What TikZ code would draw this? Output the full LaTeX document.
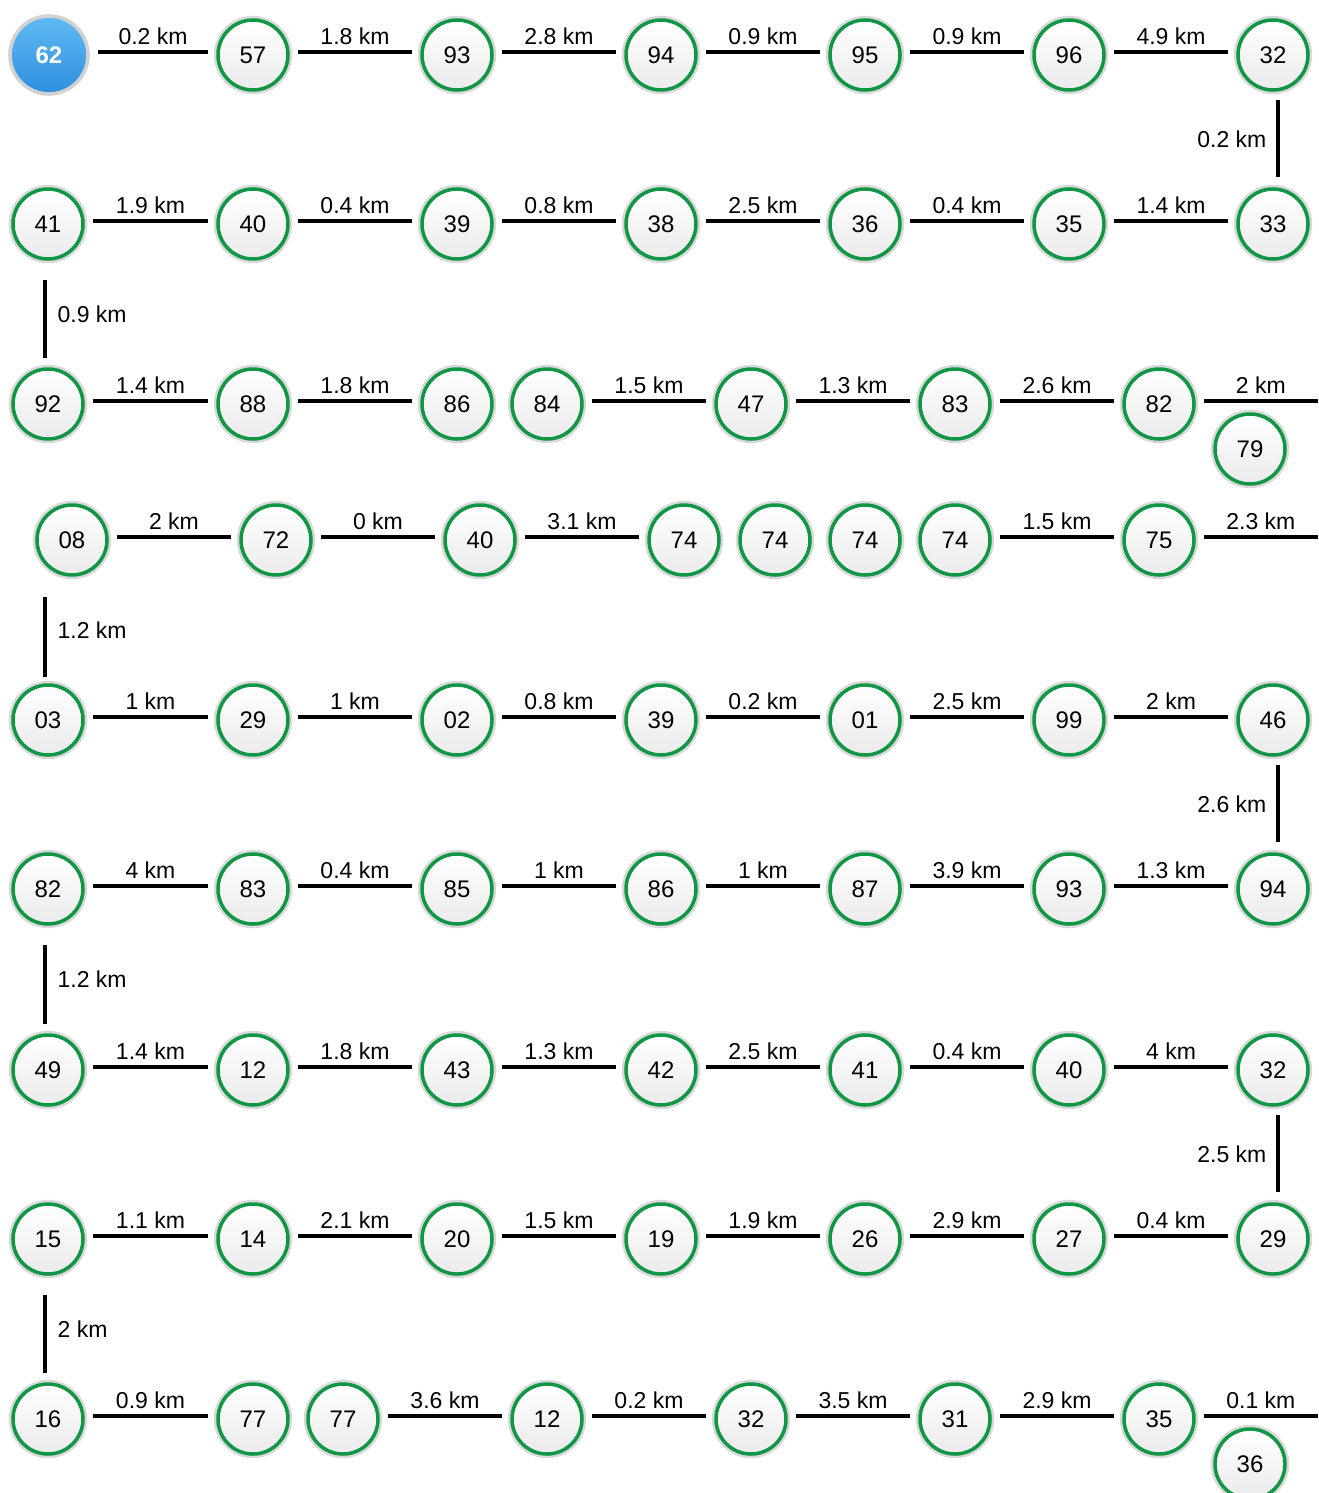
\documentclass[tikz,border=0pt]{standalone}
\usepackage{fontspec}
\setmainfont{Liberation Sans}
\definecolor{stgreen}{RGB}{16,150,68}
\definecolor{stblue}{RGB}{46,143,224}
\definecolor{stbluetop}{RGB}{96,186,242}
\tikzset{
  stop/.style={circle,minimum size=35pt,inner sep=0pt,draw=stgreen,line width=1.75pt,
    top color=white,bottom color=gray!16,font=\fontsize{12}{12}\selectfont,
    preaction={draw=gray!30,line width=4.2pt}},
  start/.style={circle,minimum size=39pt,inner sep=0pt,draw=gray!35,line width=1.8pt,
    top color=stbluetop,bottom color=stblue,text=white,font=\fontsize{12}{12}\selectfont\bfseries},
  leg/.style={line width=1.65pt,shorten <=4pt,shorten >=4pt},
  dist/.style={above,inner sep=3pt,font=\fontsize{11.5}{11.5}\selectfont},
}
\begin{document}
\begin{tikzpicture}[x=0.5pt,y=-0.5pt]
\useasboundingbox (0,0) rectangle (1318,1493);
\fill[white] (0,0) rectangle (1318,1493);

% row 1
\node[start] (a1) at (49,55) {62};
\node[stop] (a2) at (253,55) {57};
\node[stop] (a3) at (457,55) {93};
\node[stop] (a4) at (661,55) {94};
\node[stop] (a5) at (865,55) {95};
\node[stop] (a6) at (1069,55) {96};
\node[stop] (a7) at (1273,55) {32};
% row 2
\node[stop] (b1) at (48,224) {41};
\node[stop] (b2) at (253,224) {40};
\node[stop] (b3) at (457,224) {39};
\node[stop] (b4) at (661,224) {38};
\node[stop] (b5) at (865,224) {36};
\node[stop] (b6) at (1069,224) {35};
\node[stop] (b7) at (1273,224) {33};
% row 3
\node[stop] (c1) at (48,404) {92};
\node[stop] (c2) at (253,404) {88};
\node[stop] (c3) at (457,404) {86};
\node[stop] (c4) at (547,404) {84};
\node[stop] (c5) at (751,404) {47};
\node[stop] (c6) at (955,404) {83};
\node[stop] (c7) at (1159,404) {82};
\node[stop] (c8) at (1250,449) {79};
\coordinate (cend) at (1326,404);
% row 4
\node[stop] (d1) at (72,540) {08};
\node[stop] (d2) at (276,540) {72};
\node[stop] (d3) at (480,540) {40};
\node[stop] (d4) at (684,540) {74};
\node[stop] (d5) at (775,540) {74};
\node[stop] (d6) at (865,540) {74};
\node[stop] (d7) at (955,540) {74};
\node[stop] (d8) at (1159,540) {75};
\coordinate (dend) at (1326,540);
% row 5
\node[stop] (e1) at (48,720) {03};
\node[stop] (e2) at (253,720) {29};
\node[stop] (e3) at (457,720) {02};
\node[stop] (e4) at (661,720) {39};
\node[stop] (e5) at (865,720) {01};
\node[stop] (e6) at (1069,720) {99};
\node[stop] (e7) at (1273,720) {46};
% row 6
\node[stop] (f1) at (48,889) {82};
\node[stop] (f2) at (253,889) {83};
\node[stop] (f3) at (457,889) {85};
\node[stop] (f4) at (661,889) {86};
\node[stop] (f5) at (865,889) {87};
\node[stop] (f6) at (1069,889) {93};
\node[stop] (f7) at (1273,889) {94};
% row 7
\node[stop] (g1) at (48,1070) {49};
\node[stop] (g2) at (253,1070) {12};
\node[stop] (g3) at (457,1070) {43};
\node[stop] (g4) at (661,1070) {42};
\node[stop] (g5) at (865,1070) {41};
\node[stop] (g6) at (1069,1070) {40};
\node[stop] (g7) at (1273,1070) {32};
% row 8
\node[stop] (h1) at (48,1239) {15};
\node[stop] (h2) at (253,1239) {14};
\node[stop] (h3) at (457,1239) {20};
\node[stop] (h4) at (661,1239) {19};
\node[stop] (h5) at (865,1239) {26};
\node[stop] (h6) at (1069,1239) {27};
\node[stop] (h7) at (1273,1239) {29};
% row 9
\node[stop] (i1) at (48,1419) {16};
\node[stop] (i2) at (253,1419) {77};
\node[stop] (i3) at (343,1419) {77};
\node[stop] (i4) at (547,1419) {12};
\node[stop] (i5) at (751,1419) {32};
\node[stop] (i6) at (955,1419) {31};
\node[stop] (i7) at (1159,1419) {35};
\node[stop] (i8) at (1250,1464) {36};
\coordinate (iend) at (1326,1419);

% horizontal legs
\begin{scope}[transform canvas={yshift=1.5pt}]
\draw[leg] (a1.east) -- node[dist]{0.2 km} (a2.west);
\draw[leg] (a2.east) -- node[dist]{1.8 km} (a3.west);
\draw[leg] (a3.east) -- node[dist]{2.8 km} (a4.west);
\draw[leg] (a4.east) -- node[dist]{0.9 km} (a5.west);
\draw[leg] (a5.east) -- node[dist]{0.9 km} (a6.west);
\draw[leg] (a6.east) -- node[dist]{4.9 km} (a7.west);

\draw[leg] (b1.east) -- node[dist]{1.9 km} (b2.west);
\draw[leg] (b2.east) -- node[dist]{0.4 km} (b3.west);
\draw[leg] (b3.east) -- node[dist]{0.8 km} (b4.west);
\draw[leg] (b4.east) -- node[dist]{2.5 km} (b5.west);
\draw[leg] (b5.east) -- node[dist]{0.4 km} (b6.west);
\draw[leg] (b6.east) -- node[dist]{1.4 km} (b7.west);

\draw[leg] (c1.east) -- node[dist]{1.4 km} (c2.west);
\draw[leg] (c2.east) -- node[dist]{1.8 km} (c3.west);
\draw[leg] (c4.east) -- node[dist]{1.5 km} (c5.west);
\draw[leg] (c5.east) -- node[dist]{1.3 km} (c6.west);
\draw[leg] (c6.east) -- node[dist]{2.6 km} (c7.west);
\draw[leg] (c7.east) -- node[dist]{2 km} (cend);

\draw[leg] (d1.east) -- node[dist]{2 km} (d2.west);
\draw[leg] (d2.east) -- node[dist]{0 km} (d3.west);
\draw[leg] (d3.east) -- node[dist]{3.1 km} (d4.west);
\draw[leg] (d7.east) -- node[dist]{1.5 km} (d8.west);
\draw[leg] (d8.east) -- node[dist]{2.3 km} (dend);

\draw[leg] (e1.east) -- node[dist]{1 km} (e2.west);
\draw[leg] (e2.east) -- node[dist]{1 km} (e3.west);
\draw[leg] (e3.east) -- node[dist]{0.8 km} (e4.west);
\draw[leg] (e4.east) -- node[dist]{0.2 km} (e5.west);
\draw[leg] (e5.east) -- node[dist]{2.5 km} (e6.west);
\draw[leg] (e6.east) -- node[dist]{2 km} (e7.west);

\draw[leg] (f1.east) -- node[dist]{4 km} (f2.west);
\draw[leg] (f2.east) -- node[dist]{0.4 km} (f3.west);
\draw[leg] (f3.east) -- node[dist]{1 km} (f4.west);
\draw[leg] (f4.east) -- node[dist]{1 km} (f5.west);
\draw[leg] (f5.east) -- node[dist]{3.9 km} (f6.west);
\draw[leg] (f6.east) -- node[dist]{1.3 km} (f7.west);

\draw[leg] (g1.east) -- node[dist]{1.4 km} (g2.west);
\draw[leg] (g2.east) -- node[dist]{1.8 km} (g3.west);
\draw[leg] (g3.east) -- node[dist]{1.3 km} (g4.west);
\draw[leg] (g4.east) -- node[dist]{2.5 km} (g5.west);
\draw[leg] (g5.east) -- node[dist]{0.4 km} (g6.west);
\draw[leg] (g6.east) -- node[dist]{4 km} (g7.west);

\draw[leg] (h1.east) -- node[dist]{1.1 km} (h2.west);
\draw[leg] (h2.east) -- node[dist]{2.1 km} (h3.west);
\draw[leg] (h3.east) -- node[dist]{1.5 km} (h4.west);
\draw[leg] (h4.east) -- node[dist]{1.9 km} (h5.west);
\draw[leg] (h5.east) -- node[dist]{2.9 km} (h6.west);
\draw[leg] (h6.east) -- node[dist]{0.4 km} (h7.west);

\draw[leg] (i1.east) -- node[dist]{0.9 km} (i2.west);
\draw[leg] (i3.east) -- node[dist]{3.6 km} (i4.west);
\draw[leg] (i4.east) -- node[dist]{0.2 km} (i5.west);
\draw[leg] (i5.east) -- node[dist]{3.5 km} (i6.west);
\draw[leg] (i6.east) -- node[dist]{2.9 km} (i7.west);
\draw[leg] (i7.east) -- node[dist]{0.1 km} (iend);
\end{scope}

% vertical legs
\tikzset{rdist/.style={left,inner sep=5pt,font=\fontsize{11.5}{11.5}\selectfont},
  ldist/.style={right,inner sep=5.5pt,font=\fontsize{11.5}{11.5}\selectfont}}
\begin{scope}[transform canvas={xshift=2.5pt}]
\draw[leg,shorten >=5pt] (a7.south) -- node[rdist]{0.2 km} (b7.north);
\draw[leg,shorten >=5pt] (e7.south) -- node[rdist]{2.6 km} (f7.north);
\draw[leg,shorten >=5pt] (g7.south) -- node[rdist]{2.5 km} (h7.north);
\end{scope}
\coordinate (dturn) at (d1.south -| e1.north);
\begin{scope}[transform canvas={xshift=-1.5pt}]
\draw[leg,shorten <=9.5pt,shorten >=4.5pt] (b1.south) -- node[ldist]{0.9 km} (c1.north);
\draw[leg,shorten <=10pt,shorten >=3pt] (dturn) -- node[ldist]{1.2 km} (e1.north);
\draw[leg,shorten <=9.5pt,shorten >=4.5pt] (f1.south) -- node[ldist]{1.2 km} (g1.north);
\draw[leg,shorten <=9.5pt,shorten >=4.5pt] (h1.south) -- node[ldist]{2 km} (i1.north);
\end{scope}
\end{tikzpicture}
\end{document}
